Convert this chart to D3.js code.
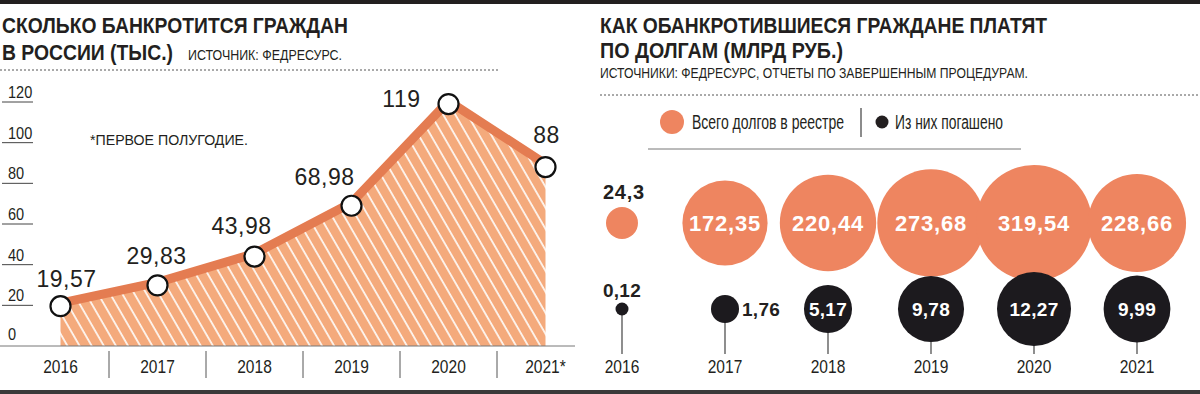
<!DOCTYPE html>
<html>
<head>
<meta charset="utf-8">
<script src="https://cdn.jsdelivr.net/npm/d3@7"></script>
<style>
  body { margin: 0; background: #fff; }
  svg { display: block; }
  text { font-family: "Liberation Sans", Arial, sans-serif; }
</style>
</head>
<body>
<div id="chart"></div>
<script>
// left chart: bankruptcies, thousands
var years = ["2016", "2017", "2018", "2019", "2020", "2021*"];
var bankrupt = [19.57, 29.83, 43.98, 68.98, 119, 88];
var yTicks = [0, 20, 40, 60, 80, 100, 120];

// right chart: debts, bln rub
var debtYears = ["2016", "2017", "2018", "2019", "2020", "2021"];
var debtTotal = [24.3, 172.35, 220.44, 273.68, 319.54, 228.66];
var debtPaid = [0.12, 1.76, 5.17, 9.78, 12.27, 9.99];

var svgWidth = 1200;
var svgHeight = 394;

var ink = "#231f20";
var orange = "#ee8560";
var lineOrange = "#e47c51";
var areaOrange = "#f4aa7c";

var svg = d3.select("#chart")
  .append("svg")
  .attr("width", svgWidth)
  .attr("height", svgHeight);

function fmt(v) {
  return String(v).replace(".", ",");
}

// no condensed face installed, so squeeze the regular one
function fit(sel, w) {
  sel.attr("textLength", w).attr("lengthAdjust", "spacingAndGlyphs");
}
function squeeze(sel, k) {
  sel.each(function() {
    var n = this.getComputedTextLength();
    d3.select(this).attr("textLength", n * k).attr("lengthAdjust", "spacingAndGlyphs");
  });
}

// frame lines
svg.append("rect").attr("x", 0).attr("y", 0).attr("width", svgWidth).attr("height", 4).attr("fill", ink);
svg.append("rect").attr("x", 0).attr("y", 390).attr("width", svgWidth).attr("height", 4).attr("fill", "#3a3a3a");

// hatching for the area
var defs = svg.append("defs");
var pat = defs.append("pattern")
  .attr("id", "hatch")
  .attr("patternUnits", "userSpaceOnUse")
  .attr("width", 10.5)
  .attr("height", 10.5)
  .attr("patternTransform", "rotate(-30)");
pat.append("rect").attr("width", 10.5).attr("height", 10.5).attr("fill", areaOrange);
pat.append("line").attr("x1", 1).attr("y1", 0).attr("x2", 1).attr("y2", 10.5)
  .attr("stroke", "#fff").attr("stroke-width", 1.6);

// ---------- left panel ----------
var left = svg.append("g");

left.append("text").attr("x", 2).attr("y", 33)
  .attr("font-size", 22).attr("font-weight", "bold").attr("fill", ink)
  .text("СКОЛЬКО БАНКРОТИТСЯ ГРАЖДАН").call(fit, 346);
left.append("text").attr("x", 2).attr("y", 60)
  .attr("font-size", 22).attr("font-weight", "bold").attr("fill", ink)
  .text("В РОССИИ (ТЫС.)").call(fit, 171);
left.append("text").attr("x", 188).attr("y", 60)
  .attr("font-size", 15.5).attr("fill", ink)
  .text("ИСТОЧНИК: ФЕДРЕСУРС.").call(fit, 154);

left.append("line").attr("x1", 0).attr("x2", 500).attr("y1", 70).attr("y2", 70)
  .attr("stroke", "#555").attr("stroke-width", 1).attr("stroke-dasharray", "2,2");

var xScale = d3.scaleBand().domain(years).range([12, 594]);
var yScale = d3.scaleLinear().domain([0, 120]).range([346, 102]);
var xc = function(d) { return xScale(d) + xScale.bandwidth() / 2; };

// y ticks: short lines with labels sitting on them
var tickG = left.selectAll(".ytick").data(yTicks).enter().append("g")
  .attr("transform", d => `translate(0, ${yScale(d)})`);
tickG.filter(d => d > 0).append("line")
  .attr("x1", 2).attr("x2", 33).attr("stroke", "#444").attr("stroke-width", 1);
tickG.append("text")
  .attr("x", 8).attr("y", d => d > 0 ? -4 : -6)
  .attr("font-size", 16.5).attr("fill", ink)
  .text(d => d).call(squeeze, 0.88);

var pts = years.map((y, i) => ({ year: y, value: bankrupt[i] }));

var area = d3.area()
  .x(d => xc(d.year))
  .y0(yScale(0))
  .y1(d => yScale(d.value));
left.append("path").datum(pts).attr("d", area).attr("fill", "url(#hatch)");

var line = d3.line()
  .x(d => xc(d.year))
  .y(d => yScale(d.value));
left.append("path").datum(pts).attr("d", line)
  .attr("transform", "translate(0,-3)")
  .attr("fill", "none").attr("stroke", lineOrange)
  .attr("stroke-width", 9).attr("stroke-linejoin", "round");

// x axis
left.append("line").attr("x1", 0).attr("x2", 575)
  .attr("y1", yScale(0)).attr("y2", yScale(0))
  .attr("stroke", "#777").attr("stroke-width", 1);

left.selectAll(".sep").data(years.slice(1)).enter().append("line")
  .attr("x1", d => xScale(d)).attr("x2", d => xScale(d))
  .attr("y1", 351).attr("y2", 378)
  .attr("stroke", "#555").attr("stroke-width", 1);

left.selectAll(".xlab").data(years).enter().append("text")
  .attr("x", d => xc(d)).attr("y", 373)
  .attr("text-anchor", "middle").attr("font-size", 18.5).attr("fill", ink)
  .text(d => d).call(squeeze, 0.84);

left.selectAll(".dot").data(pts).enter().append("circle")
  .attr("cx", d => xc(d.year)).attr("cy", d => yScale(d.value))
  .attr("r", 10).attr("fill", "#fff").attr("stroke", "#111").attr("stroke-width", 2.2);

// value labels
var labelOffsets = [[6, -19, "middle"], [-1, -21, "middle"], [-13, -23, "middle"],
                    [-27, -21, "middle"], [-28, 3, "end"], [1, -24, "middle"]];
left.selectAll(".vlab").data(pts).enter().append("text")
  .attr("x", (d, i) => xc(d.year) + labelOffsets[i][0])
  .attr("y", (d, i) => yScale(d.value) + labelOffsets[i][1])
  .attr("text-anchor", (d, i) => labelOffsets[i][2])
  .attr("font-size", 23).attr("letter-spacing", 0.5).attr("fill", ink)
  .text(d => fmt(d.value));

left.append("text").attr("x", 90).attr("y", 145)
  .attr("font-size", 15.5).attr("fill", ink)
  .text("*ПЕРВОЕ ПОЛУГОДИЕ.").call(fit, 158);

// ---------- right panel ----------
var right = svg.append("g");

right.append("text").attr("x", 600).attr("y", 33)
  .attr("font-size", 22).attr("font-weight", "bold").attr("fill", ink)
  .text("КАК ОБАНКРОТИВШИЕСЯ ГРАЖДАНЕ ПЛАТЯТ").call(fit, 447);
right.append("text").attr("x", 600).attr("y", 58)
  .attr("font-size", 22).attr("font-weight", "bold").attr("fill", ink)
  .text("ПО ДОЛГАМ (МЛРД РУБ.)").call(fit, 243);
right.append("text").attr("x", 600).attr("y", 78)
  .attr("font-size", 15).attr("fill", ink)
  .text("ИСТОЧНИКИ: ФЕДРЕСУРС, ОТЧЕТЫ ПО ЗАВЕРШЕННЫМ ПРОЦЕДУРАМ.").call(fit, 428);

right.append("line").attr("x1", 600).attr("x2", 1200).attr("y1", 95).attr("y2", 95)
  .attr("stroke", "#555").attr("stroke-width", 1).attr("stroke-dasharray", "2,2");

// legend
right.append("circle").attr("cx", 672).attr("cy", 122).attr("r", 12).attr("fill", orange);
right.append("text").attr("x", 692).attr("y", 129)
  .attr("font-size", 20).attr("fill", ink).text("Всего долгов в реестре").call(fit, 152);
right.append("line").attr("x1", 861).attr("x2", 861).attr("y1", 108).attr("y2", 137)
  .attr("stroke", "#666").attr("stroke-width", 1.5);
right.append("circle").attr("cx", 882).attr("cy", 122).attr("r", 6.5).attr("fill", ink);
right.append("text").attr("x", 895).attr("y", 129)
  .attr("font-size", 20).attr("fill", ink).text("Из них погашено").call(fit, 108);
right.append("line").attr("x1", 648).attr("x2", 1021).attr("y1", 149).attr("y2", 149)
  .attr("stroke", "#777").attr("stroke-width", 1);

var bx = d3.scalePoint().domain(debtYears).range([622, 1137]);
var rTotal = d3.scaleSqrt().domain([0, d3.max(debtTotal)]).range([0, 58]);
var rPaid = d3.scaleSqrt().domain([0, d3.max(debtPaid)]).range([0, 37]);
var rPaidMin = d => Math.max(6.5, rPaid(d));

var bub = debtYears.map((y, i) => ({ year: y, total: debtTotal[i], paid: debtPaid[i] }));
var cyTotal = 223;
var cyPaid = 309;

// stems
right.selectAll(".stem").data(bub).enter().append("line")
  .attr("x1", d => bx(d.year)).attr("x2", d => bx(d.year))
  .attr("y1", cyPaid).attr("y2", 354)
  .attr("stroke", "#444").attr("stroke-width", 1.2);

right.selectAll(".tot").data(bub).enter().append("circle")
  .attr("cx", d => bx(d.year)).attr("cy", cyTotal)
  .attr("r", d => rTotal(d.total)).attr("fill", orange);

right.selectAll(".paid").data(bub).enter().append("circle")
  .attr("cx", d => bx(d.year)).attr("cy", cyPaid)
  .attr("r", d => rPaidMin(d.paid)).attr("fill", "#1c1a1e");

// total labels: small bubble gets its label above
right.selectAll(".totlab").data(bub).enter().append("text")
  .attr("x", d => bx(d.year) + (d.year === "2016" ? 2 : 0))
  .attr("y", d => d.year === "2016" ? 199 : cyTotal + 8)
  .attr("text-anchor", "middle")
  .attr("font-size", d => d.year === "2016" ? 20 : 22)
  .attr("font-weight", "bold").attr("letter-spacing", 0.8)
  .attr("fill", d => d.year === "2016" ? ink : "#fff")
  .text(d => fmt(d.total));

// paid labels
right.selectAll(".paidlab").data(bub).enter().append("text")
  .attr("x", d => d.year === "2017" ? bx(d.year) + rPaidMin(d.paid) + 3 : bx(d.year))
  .attr("y", d => d.year === "2016" ? 297 : cyPaid + 7)
  .attr("text-anchor", d => d.year === "2017" ? "start" : "middle")
  .attr("font-size", 19).attr("font-weight", "bold").attr("letter-spacing", 0.3)
  .attr("fill", d => (d.year === "2016" || d.year === "2017") ? ink : "#fff")
  .text(d => fmt(d.paid));

right.selectAll(".bylab").data(bub).enter().append("text")
  .attr("x", d => bx(d.year)).attr("y", 373)
  .attr("text-anchor", "middle").attr("font-size", 18.5).attr("fill", ink)
  .text(d => d.year).call(squeeze, 0.84);
</script>
</body>
</html>
